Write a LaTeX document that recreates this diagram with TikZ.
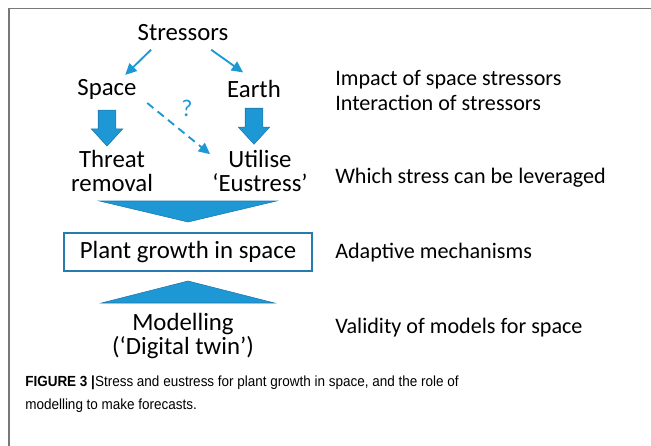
\documentclass[tikz,border=0pt]{standalone}
\usepackage{fontspec}
\setmainfont{Carlito}
\newfontfamily\captionfont[FakeStretch=0.92]{Liberation Sans}
\usetikzlibrary{arrows.meta,positioning,calc,shapes.arrows}

\definecolor{arrowblue}{RGB}{30,152,212}
\definecolor{edgeblue}{RGB}{28,118,172}
\definecolor{boxblue}{RGB}{38,124,172}
\definecolor{framegray}{RGB}{120,120,120}

\begin{document}
\begin{tikzpicture}[x=0.75pt,y=-0.75pt,
  lbl/.style={font=\fontsize{18.6}{18.4}\selectfont, align=center, inner sep=1pt},
  side/.style={font=\fontsize{16.6}{18.75}\selectfont, align=left, anchor=west, inner sep=0pt},
  thinarrow/.style={draw=arrowblue, line width=1.4pt, -{Triangle[length=8.5pt,width=8pt]}},
  blockarrow/.style={single arrow, fill=arrowblue, draw=edgeblue, line width=0.4pt,
    rotate=-90, minimum height=27pt, minimum width=23.25pt, inner xsep=0pt,
    inner ysep=6.375pt, single arrow head extend=5.25pt, single arrow tip angle=85},
  wedge/.style={fill=arrowblue, draw=edgeblue, line width=0.4pt}]
\useasboundingbox (0,0) rectangle (651,446);
\draw[framegray, line width=1.2pt] (9,446) -- (9,8.5) -- (651,8.5);

% stressor tree
\node[lbl] (stressors) at (183,33) {Stressors};
\node[lbl] (space) at (107,89.5) {Space};
\node[lbl] (earth) at (254,89) {Earth};
\node[lbl] (threat) at (112,171) {Threat\\removal};
\node[lbl] (utilise) at (260,171) {Utilise\\`Eustress'};
\draw[thinarrow] ([xshift=11.25pt,yshift=-5.25pt]stressors.south west) -- ([xshift=-9.7pt,yshift=2.2pt]space.north east);
\draw[thinarrow] ([xshift=-14.1pt,yshift=-5.25pt]stressors.south east) -- ([xshift=13.1pt,yshift=4.7pt]earth.north west);
\draw[thinarrow, dash pattern=on 6pt off 4pt] ([xshift=6.8pt,yshift=-1.4pt]space.south east) -- ([xshift=-0.5pt,yshift=-4.3pt]utilise.north west);
\node[font=\fontsize{18}{18}\selectfont, text=arrowblue, inner sep=0pt] (q) at (187,108) {?};
\node[blockarrow, anchor=tail] (spacedown) at ([yshift=-6.5pt]space.south) {};
\node[blockarrow, anchor=tail] (earthdown) at ([yshift=-6.5pt]earth.south) {};

% plant box and model
\node[draw=boxblue, line width=1.5pt, minimum width=186pt, minimum height=28.5pt,
  inner sep=0pt, font=\fontsize{18.6}{18}\selectfont] (plant) at (188,252) {Plant growth in space};
\filldraw[wedge] ($(plant.north)+(-88.5,-31)$) -- ($(plant.north)+(88.5,-31)$) -- ($(plant.north)+(0,-10)$) -- cycle;
\filldraw[wedge] ($(plant.south)+(-86.5,31)$) -- ($(plant.south)+(86.5,31)$) -- ($(plant.south)+(0,9)$) -- cycle;
\node[lbl] (model) at (183,336) {Modelling\\(`Digital twin')};

% questions on the right
\node[side] (impact) at (335,90.5) {Impact of space stressors\\Interaction of stressors};
\node[side] (leverage) at (335,178) {Which stress can be leveraged};
\node[side] (adaptive) at (335,253) {Adaptive mechanisms};
\node[side] (validity) at (335,328) {Validity of models for space};

\node[anchor=north west, align=left, inner sep=0pt,
  font=\captionfont\fontsize{11}{17.25}\selectfont] (caption) at (25,375.5)
  {\textbf{FIGURE 3 |}Stress and eustress for plant growth in space, and the role of\\modelling to make forecasts.};
\end{tikzpicture}
\end{document}
